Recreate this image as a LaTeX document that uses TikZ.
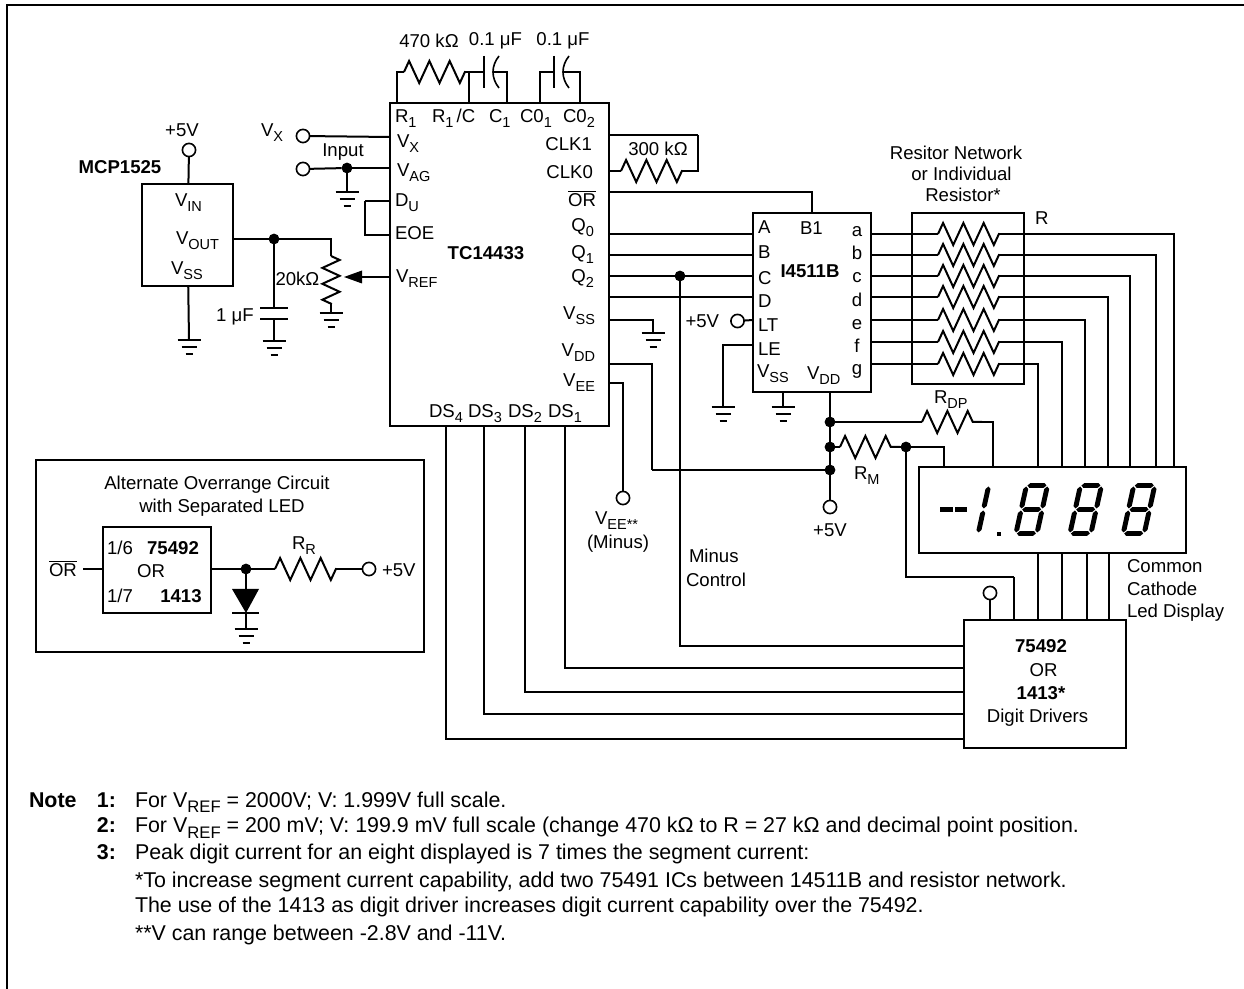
\documentclass[tikz,border=0pt]{standalone}
\usepackage{fontspec}
\setmainfont{Liberation Sans}
\usetikzlibrary{decorations.pathmorphing}
\newcommand{\sbs}[1]{\raisebox{-0.26em}{\fontsize{0.78em}{1em}\selectfont #1}}
\newcommand{\ovr}{$\overline{\mbox{OR}}$}

\begin{document}
\begin{tikzpicture} [
                x=0.5pt,
                y=-0.5pt,
                every node/.style={font=\fontsize{9.3}{11}\selectfont,inner sep=0pt,outer sep=0pt},
                wire/.style = {draw,line width=1pt},
                frameline/.style = {draw,line width=1.2pt},
                chip/.style 2 args = {draw,line width=1pt,minimum width=#1*0.5pt,minimum height=#2*0.5pt},
                terminal/.style = {draw,line width=0.8pt,circle,minimum size=6.6pt,fill=white},
                joint/.style = {circle,fill=black,minimum size=5.4pt},
                resistor/.style = {decorate,decoration={zigzag,segment length=10.15pt,amplitude=5.5pt}},
                potmeter/.style = {decorate,decoration={zigzag,segment length=7.95pt,amplitude=4.3pt}},
                pinleft/.style = {anchor=base west},
                pinright/.style = {anchor=base east},
                plainlabel/.style = {anchor=base},
                strong/.style = {anchor=base,font=\fontsize{9.3}{11}\selectfont\bfseries},
                notetext/.style = {anchor=base west,font=\fontsize{10.7}{12}\selectfont},
                notemark/.style = {anchor=base west,font=\fontsize{10.7}{12}\selectfont\bfseries},
                ground/.pic = {
                    \draw[line width=1pt] (-11.5,0) -- (11.5,0);
                    \draw[line width=1pt] (-7.5,7) -- (7.5,7);
                    \draw[line width=1pt] (-3.5,14) -- (3.5,14);
                },
                upright/.pic = {
                    \foreach \a/\b in {-23/-1,1/23}
                        \fill (10.5,\a) -- (13,\a+2.5) -- (13,\b-2.5) -- (10.5,\b) -- (8,\b-2.5) -- (8,\a+2.5) -- cycle;
                },
                eight/.pic = {
                    \foreach \c in {-24,0,24}
                        \fill (-9.5,\c) -- (-7.2,\c-2.3) -- (7.2,\c-2.3) -- (9.5,\c) -- (7.2,\c+2.3) -- (-7.2,\c+2.3) -- cycle;
                    \foreach \c in {-10.5,10.5}
                        \foreach \a/\b in {-23/-1,1/23}
                            \fill (\c,\a) -- (\c+2.5,\a+2.5) -- (\c+2.5,\b-2.5) -- (\c,\b) -- (\c-2.5,\b-2.5) -- (\c-2.5,\a+2.5) -- cycle;
                }
            ]
            \useasboundingbox (0,0) rectangle (1244,989);
            % Page frame, only left and top
            \coordinate (frametop) at (1244,5);
            \coordinate (framecorner) at (7,5);
            \coordinate (framebottom) at (7,989);
            \draw[frameline] (frametop) -- (framecorner) -- (framebottom);
            % First we draw the boxes
            \node[chip={219}{323}] (tc) at (499,264.5) {};
            \node[chip={91}{102}] (mcp) at (187.5,235) {};
            \node[chip={118}{179}] (dec) at (812,302.5) {};
            \node[chip={112}{171}] (net) at (968,298.5) {};
            \node[chip={267}{86}] (display) at (1052,510) {};
            \node[chip={162}{128}] (driver) at (1045,684) {};
            \node[chip={388}{192}] (alt) at (230,556) {};
            \node[chip={108}{86}] (altchip) at (157,570) {};
            % Terminals and dots
            \foreach \pos/\name in {
                {(303,136)/tvx}, {(303,169)/tin}, {(189,150)/tmcp}, {(623,498)/tvee},
                {(830,507)/tfive}, {(737.5,321)/tlt}, {(990,593)/tdrv}, {(369,569)/talt}}
                \node[terminal] (\name) at \pos {};
            \foreach \pos/\name in {
                {(347,168)/din}, {(274,239)/dout}, {(680,276)/dminus}, {(830,422)/drdp},
                {(830,447)/drm}, {(830,470)/dfive}, {(906,447)/drmr}, {(246,569)/dalt}}
                \node[joint] (\name) at \pos {};
            % Named pin points
            \foreach \xpos/\ypos/\name in {
                397/103/pr, 469/103/prc, 507/103/pc, 540/103/pco, 580/103/pct,
                404/72/ral, 465/72/rar, 484/72/capa, 494/72/capb, 554/72/capc, 564/72/capd,
                390/137/pvx, 390/168/pag, 390/201/pdu, 365/201/bdu, 390/235/peoe, 390/277/pref,
                362/277/arrowend, 347/192/gin,
                233/239/pout, 331/256/potup, 331/304/potdn, 331/313/gpot,
                274/308/capup, 274/319/capdn, 274/341/gcap, 189/340/gmcp,
                608/135/pclka, 608/171/pclkb, 698/135/bclk, 621/171/rbl, 682/171/rbr,
                608/192/por, 608/234/pqa, 608/255/pqb, 608/276/pqc, 608/297/pqd,
                608/320/pvss, 608/364/pvdd, 608/383/pvee, 653/333/gvss, 652/470/bvdd,
                753/234/ia, 753/255/ib, 753/276/ic, 753/297/id, 753/320/ilt, 753/345/ile,
                812/213/ibo, 783/392/ivss, 830/392/ivdd, 723/407/gle, 783/407/gdec,
                922/422/rdl, 982/422/rdr, 993/467/trd, 840/447/rml, 900/447/rmr, 944/467/trm,
                446/426/dsd, 484/426/dsc, 525/426/dsb, 565/426/dsa,
                964/739/drvd, 964/714/drvc, 964/692/drvb, 964/668/drva, 964/646/drvm,
                1014/577/brm, 1014/620/drvr, 990/620/drvt,
                83/569/altin, 103/569/altleft, 211/569/altright, 275/569/rrl, 336/569/rrr,
                246/589/dioup, 246/613/diodn, 246/629/galt}
                \coordinate (\name) at (\xpos,\ypos);
            % Connect everything with straight wires
            \foreach \wirea/\wireb in {tvx/pvx, tin/din, din/pag, din/gin, tmcp/mcp, mcp/gmcp, pout/dout,
                                       potdn/gpot, pref/arrowend, dout/capup, capdn/gcap,
                                       rar/capa, pqa/ia, pqb/ib, pqc/dminus, dminus/ic, pqd/id, tlt/ilt,
                                       ivss/gdec, ivdd/drdp, drdp/drm, drm/dfive, dfive/tfive, drdp/rdl, drm/rml,
                                       rmr/drmr, bvdd/dfive, brm/drvr, tdrv/drvt, pclka/bclk, pclkb/rbl,
                                       altin/altleft, altright/dalt, dalt/rrl, rrr/talt, dalt/dioup, diodn/galt}
                \path[wire] (\wirea) -- (\wireb);
            % Wires with one bend, vertical first
            \foreach \wirea/\wireb in {pr/ral, prc/rar, pc/capb, pco/capc, pct/capd,
                                       dsd/drvd, dsc/drvc, dsb/drvb, dsa/drva, dminus/drvm, drmr/brm, bdu/peoe}
                \path[wire] (\wirea) |- (\wireb);
            % Wires with one bend, horizontal first
            \foreach \wirea/\wireb in {pdu/bdu, por/ibo, pvss/gvss, pvee/tvee, pvdd/bvdd, ile/gle, dout/potup,
                                       drmr/trm, rdr/trd, rbr/bclk}
                \path[wire] (\wirea) -| (\wireb);
            % Resistors
            \foreach \wirea/\wireb in {ral/rar, rbl/rbr, rdl/rdr, rml/rmr, rrl/rrr}
                \path[wire,resistor] (\wirea) -- (\wireb);
            \path[wire,potmeter] (potup) -- (potdn);
            % Resistor network and its wires to the display
            \foreach \seg/\ypos/\colx in {a/234/1174, b/255/1156, c/276/1130, d/297/1108,
                                          e/320/1085, f/342/1062, g/364/1038} {
                \coordinate (o\seg) at (871,\ypos);
                \coordinate (s\seg) at (938,\ypos);
                \coordinate (e\seg) at (999,\ypos);
                \coordinate (t\seg) at (\colx,467);
                \path[wire] (o\seg) -- (s\seg);
                \path[wire,resistor] (s\seg) -- (e\seg);
                \path[wire] (e\seg) -| (t\seg);
            }
            % Digit lines
            \foreach \xpos in {1038,1062,1087,1109} {
                \coordinate (dtop\xpos) at (\xpos,553);
                \coordinate (dbot\xpos) at (\xpos,620);
                \path[wire] (dtop\xpos) -- (dbot\xpos);
            }
            % Grounds
            \foreach \name in {gin,gpot,gcap,gmcp,gvss,gle,gdec,galt}
                \pic at (\name) {ground};
            % Capacitors
            \draw[line width=1pt] (484,56) -- (484,88);
            \draw[line width=0.8pt] (499,56) .. controls (491,66) and (491,78) .. (499,88);
            \draw[line width=1pt] (554,56) -- (554,88);
            \draw[line width=0.8pt] (569,56) .. controls (561,66) and (561,78) .. (569,88);
            \draw[line width=1pt] (260,308) -- (288,308);
            \draw[line width=1pt] (260,319) -- (288,319);
            % Wiper arrow and the diode
            \fill (344,277) -- (362,270.5) -- (362,283.5) -- cycle;
            \fill (232,589) -- (259,589) -- (246,613) -- cycle;
            \draw[line width=1pt] (232,613) -- (259,613);
            % Display digits
            \foreach \xpos in {1031.7,1085.7,1139}
                \pic[xslant=0.22] at (\xpos,509.5) {eight};
            \pic[xslant=0.22] at (973,509.5) {upright};
            \fill (940,507) rectangle (953,512);
            \fill (955,507) rectangle (967,512);
            \fill (997,532) rectangle (1001,536);
            % Labels on the left edge
            \foreach \pos/\name/\txt in {
                {(395,123)/lr/{R\sbs{1}}}, {(432,123)/lrc/{R\sbs{1}\,/C}}, {(489,123)/lc/{C\sbs{1}}},
                {(520,123)/lco/{C0\sbs{1}}}, {(563,123)/lct/{C0\sbs{2}}},
                {(397,148)/lvx/{V\sbs{X}}}, {(397,177)/lag/{V\sbs{AG}}}, {(395,207)/ldu/{D\sbs{U}}},
                {(395,240)/leoe/{EOE}}, {(396,283)/lref/{V\sbs{REF}}},
                {(429,418)/lds/{DS\sbs{4}}}, {(468,418)/ldt/{DS\sbs{3}}}, {(508,418)/ldb/{DS\sbs{2}}}, {(548,418)/lda/{DS\sbs{1}}},
                {(261,137)/linvx/{V\sbs{X}}}, {(175,207)/lin/{V\sbs{IN}}}, {(176,245)/lout/{V\sbs{OUT}}}, {(171,275)/lss/{V\sbs{SS}}},
                {(275.5,286)/lpot/{20kΩ}},
                {(758,234)/la/{A}}, {(800,235)/lbo/{B1}}, {(758,259)/lb/{B}}, {(758,285)/lcc/{C}}, {(758,308)/ld/{D}},
                {(758,332)/llt/{LT}}, {(758,356)/lle/{LE}}, {(757,378)/ldss/{V\sbs{SS}}}, {(807,380)/lddd/{V\sbs{DD}}},
                {(685.5,328)/lfive/{+5V}}, {(1035,225)/lrn/{R}}, {(934,404)/lrdp/{R\sbs{DP}}}, {(854,480)/lrm/{R\sbs{M}}},
                {(595,525)/lvee/{V\sbs{EE**}}}, {(689,563)/lmin/{Minus}}, {(686,587)/lctl/{Control}},
                {(1127,573)/lcom/{Common}}, {(1127,596)/lcat/{Cathode}}, {(1127,618)/lled/{Led Display}},
                {(107,555)/lsix/{1/6}}, {(107,603)/lsev/{1/7}}, {(292,550)/lrr/{R\sbs{R}}}, {(382,577)/laltv/{+5V}},
                {(49,577)/laltor/{\ovr}}}
                \node[pinleft] (\name) at \pos {\txt};
            % Labels on the right edge
            \foreach \pos/\name/\txt in {
                {(592,151)/lca/{CLK1}}, {(593,179)/lcb/{CLK0}}, {(596,207)/lor/{\ovr}}, {(594,232)/lqa/{Q\sbs{0}}},
                {(594,259)/lqb/{Q\sbs{1}}}, {(594,283)/lqc/{Q\sbs{2}}}, {(595,320)/lvs/{V\sbs{SS}}},
                {(595,357)/lvd/{V\sbs{DD}}}, {(595,387)/lve/{V\sbs{EE}}}}
                \node[pinright] (\name) at \pos {\txt};
            % Centred labels
            \foreach \pos/\name/\txt in {
                {(429,48)/lra/{470 kΩ}}, {(495.5,46)/lcapa/{0.1 μF}}, {(563,46)/lcapb/{0.1 μF}}, {(658,156)/lrb/{300 kΩ}},
                {(182,137)/lmcpv/{+5V}}, {(343,157)/linput/{Input}}, {(235,322)/lonef/{1 μF}},
                {(956,160)/lneta/{Resitor Network}}, {(961.5,181)/lnetb/{or Individual}}, {(963,202)/lnetc/{Resistor*}},
                {(857,237)/sa/{a}}, {(857,260)/sb/{b}}, {(857,283)/sc/{c}}, {(857,307)/sd/{d}}, {(857,330)/se/{e}},
                {(857,353)/sf/{f}}, {(857,375)/sg/{g}},
                {(618,549)/lminus/{(Minus)}}, {(830,537)/ltfive/{+5V}}, {(1043.5,677)/ldrvor/{OR}}, {(1037.5,723)/ldrv/{Digit Drivers}},
                {(217,490)/ltita/{Alternate Overrange Circuit}}, {(222,513)/ltitb/{with Separated LED}}, {(151,578)/laltv2/{OR}}}
                \node[plainlabel] (\name) at \pos {\txt};
            % Bold labels
            \foreach \pos/\name/\txt in {
                {(120,174)/nmcp/{MCP1525}}, {(486,260)/ntc/{TC14433}}, {(810,278)/ndec/{I4511B}},
                {(1041,653)/ndrva/{75492}}, {(1041,700)/ndrvb/{1413*}}, {(173,555)/nalta/{75492}}, {(181,603)/naltb/{1413}}}
                \node[strong] (\name) at \pos {\txt};
            % Notes
            \node[notemark] (notehead) at (29,807) {Note};
            \foreach \ypos/\name/\txt in {807/one/{1:}, 833/two/{2:}, 860/three/{3:}}
                \node[notemark] (mark\name) at (97,\ypos) {\txt};
            \foreach \ypos/\name/\txt in {
                807/one/{For V\sbs{REF} = 2000V; V: 1.999V full scale.},
                833/two/{For V\sbs{REF} = 200 mV; V: 199.9 mV full scale (change 470 kΩ to R = 27 kΩ and decimal point position.},
                860/three/{Peak digit current for an eight displayed is 7 times the segment current:},
                887/four/{*To increase segment current capability, add two 75491 ICs between 14511B and resistor network.},
                913/five/{The use of the 1413 as digit driver increases digit current capability over the 75492.},
                940/six/{**V can range between -2.8V and -11V.}}
                \node[notetext] (note\name) at (135,\ypos) {\txt};
        \end{tikzpicture}
\end{document}
